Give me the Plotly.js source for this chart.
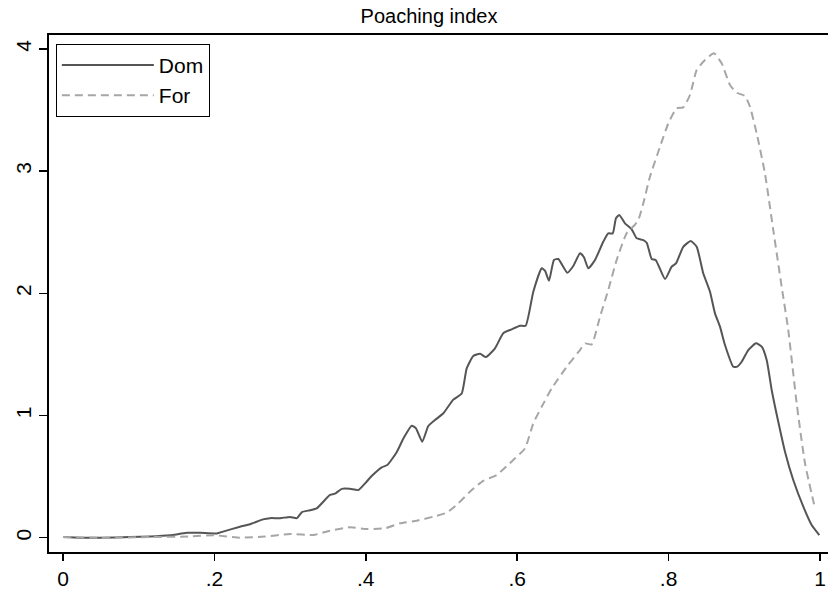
<!DOCTYPE html>
<html>
<head>
<meta charset="utf-8">
<script src="https://cdn.plot.ly/plotly-3.0.1.min.js"></script>
<style>html,body{margin:0;padding:0;background:#fff;}#chart{width:828px;height:590px;}</style>
</head>
<body>
<div id="chart"></div>
<script>
const domX = [0, 0.0225, 0.0489, 0.0885, 0.115, 0.1413, 0.1638, 0.181, 0.2034, 0.2114, 0.2338, 0.247, 0.2642, 0.2734, 0.2867, 0.2999, 0.3091, 0.3157, 0.3263, 0.3351, 0.3527, 0.3593, 0.3682, 0.3791, 0.3901, 0.399, 0.4078, 0.421, 0.4284, 0.4408, 0.4495, 0.4606, 0.4663, 0.4746, 0.4826, 0.4914, 0.5024, 0.5156, 0.5267, 0.5333, 0.542, 0.5509, 0.5588, 0.5707, 0.5816, 0.5927, 0.6037, 0.6112, 0.6213, 0.6324, 0.6367, 0.642, 0.6486, 0.6543, 0.6662, 0.6741, 0.683, 0.6882, 0.6939, 0.7028, 0.7137, 0.7203, 0.7262, 0.7305, 0.7349, 0.7424, 0.7513, 0.7579, 0.7666, 0.7711, 0.7777, 0.783, 0.7953, 0.8041, 0.8098, 0.8194, 0.8292, 0.8371, 0.8458, 0.8547, 0.8613, 0.8679, 0.8745, 0.8855, 0.8908, 0.8966, 0.9053, 0.9155, 0.923, 0.9296, 0.9362, 0.9449, 0.9538, 0.9647, 0.978, 0.989, 0.9991];
const domY = [0.005, 0.0, 0.0, 0.005, 0.01, 0.02, 0.04, 0.04, 0.035, 0.05, 0.09, 0.11, 0.15, 0.16, 0.16, 0.17, 0.16, 0.21, 0.225, 0.24, 0.35, 0.36, 0.40, 0.40, 0.39, 0.445, 0.505, 0.576, 0.595, 0.70, 0.81, 0.917, 0.895, 0.786, 0.914, 0.963, 1.018, 1.13, 1.18, 1.386, 1.487, 1.505, 1.478, 1.55, 1.673, 1.705, 1.735, 1.735, 2.013, 2.205, 2.185, 2.103, 2.273, 2.281, 2.169, 2.224, 2.327, 2.295, 2.205, 2.273, 2.422, 2.491, 2.49, 2.614, 2.641, 2.573, 2.524, 2.45, 2.436, 2.414, 2.281, 2.273, 2.117, 2.218, 2.245, 2.381, 2.428, 2.381, 2.164, 2.013, 1.836, 1.727, 1.577, 1.399, 1.40, 1.44, 1.536, 1.591, 1.563, 1.454, 1.209, 0.949, 0.704, 0.472, 0.254, 0.104, 0.022];
const forX = [0, 0.0489, 0.115, 0.1678, 0.1995, 0.2338, 0.2668, 0.2999, 0.3306, 0.3527, 0.3791, 0.4012, 0.4254, 0.4452, 0.4672, 0.4892, 0.5069, 0.5222, 0.5399, 0.5552, 0.5729, 0.5948, 0.6103, 0.6213, 0.6324, 0.6456, 0.6654, 0.683, 0.6896, 0.6984, 0.7094, 0.7203, 0.7314, 0.7446, 0.7543, 0.76, 0.7666, 0.7754, 0.7887, 0.7997, 0.8107, 0.8194, 0.8283, 0.8371, 0.8481, 0.86, 0.8701, 0.8811, 0.89, 0.9009, 0.9075, 0.9164, 0.9273, 0.9383, 0.9494, 0.9581, 0.9692, 0.9802, 0.9934];
const forY = [0.005, 0.0, 0.005, 0.01, 0.02, 0.0, 0.01, 0.03, 0.022, 0.057, 0.085, 0.071, 0.077, 0.118, 0.139, 0.172, 0.205, 0.281, 0.39, 0.465, 0.513, 0.636, 0.731, 0.936, 1.072, 1.222, 1.399, 1.536, 1.59, 1.582, 1.808, 2.027, 2.273, 2.491, 2.553, 2.6, 2.737, 2.954, 3.2, 3.391, 3.514, 3.522, 3.623, 3.827, 3.909, 3.964, 3.882, 3.705, 3.642, 3.615, 3.527, 3.309, 2.982, 2.518, 2.054, 1.7, 1.1, 0.609, 0.241];
const xTickVals = [0, 0.2, 0.4, 0.6, 0.8, 1];
const xTickText = ['0', '.2', '.4', '.6', '.8', '1'];
const yTickVals = [0, 1, 2, 3, 4];
const yTickText = ['0', '1', '2', '3', '4'];
const seriesNames = ['Dom', 'For'];
const titleText = 'Poaching index';

const FONT = 'Liberation Sans, Arial, Helvetica, sans-serif';
const traces = [
  {x: domX, y: domY, name: seriesNames[0], type: 'scatter', mode: 'lines',
   line: {color: '#555555', width: 2, shape: 'spline', smoothing: 0.5}},
  {x: forX, y: forY, name: seriesNames[1], type: 'scatter', mode: 'lines',
   line: {color: '#a6a6a6', width: 2, dash: '8px,5px', shape: 'spline', smoothing: 0.5}}
];
const layout = {
  width: 828, height: 590,
  margin: {l: 49, r: 0, t: 35, b: 38, pad: 0},
  paper_bgcolor: '#ffffff', plot_bgcolor: '#ffffff',
  font: {family: FONT, size: 21, color: '#000000'},
  title: {text: titleText, font: {family: FONT, size: 20, color: '#000000'},
          x: 429/828, xref: 'container', xanchor: 'center', y: 1 - 16/590, yref: 'container', yanchor: 'middle'},
  showlegend: true,
  legend: {x: 0.0088, y: 0.983, xanchor: 'left', yanchor: 'top', bgcolor: '#ffffff',
           bordercolor: '#000000', borderwidth: 1, font: {family: FONT, size: 21, color: '#000000'},
           itemwidth: 92, tracegroupgap: 0},
  xaxis: {range: [-0.0185, 1.0106], tickvals: xTickVals, ticktext: xTickText,
          showgrid: false, zeroline: false, showline: true, linecolor: '#000000', linewidth: 2, mirror: true,
          ticks: 'outside', ticklen: 7, tickwidth: 1.5, tickcolor: '#000000',
          tickfont: {family: FONT, size: 21, color: '#000000'}},
  yaxis: {range: [-0.117, 4.114], tickvals: yTickVals, ticktext: yTickText, tickangle: -90,
          showgrid: false, zeroline: false, showline: true, linecolor: '#000000', linewidth: 2,
          ticks: 'outside', ticklen: 8, tickwidth: 1.5, tickcolor: '#000000',
          tickfont: {family: FONT, size: 21, color: '#000000'}}
};
Plotly.newPlot('chart', traces, layout, {displayModeBar: false, staticPlot: true});
</script>
</body>
</html>
